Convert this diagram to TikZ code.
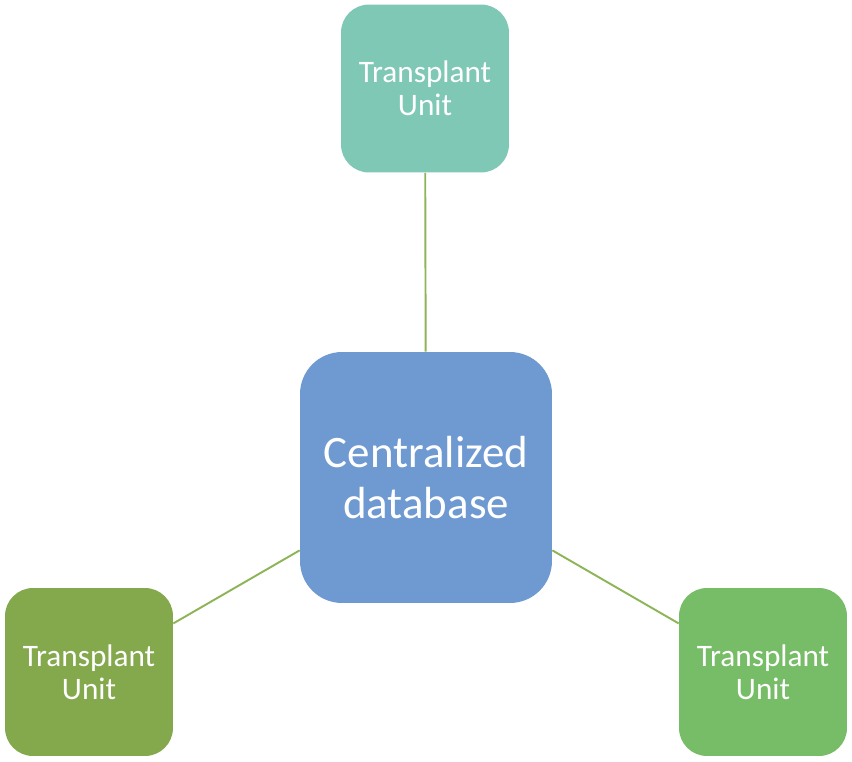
\documentclass[tikz,border=0pt]{standalone}
\usepackage{fontspec}
\setmainfont{Carlito}
\definecolor{tealunit}{HTML}{7FC8B5}
\definecolor{hubblue}{HTML}{6F99D1}
\definecolor{oliveunit}{HTML}{84A84C}
\definecolor{greenunit}{HTML}{77BC67}
\definecolor{linkgreen}{HTML}{8DB457}
\tikzset{
  unitbox/.style={rectangle, rounded corners=0.56cm, minimum width=3.36cm,
    minimum height=3.36cm, text=white, align=center, font=\fontsize{17.8}{18.7}\selectfont,
    inner sep=0pt},
  hubbox/.style={rectangle, rounded corners=0.84cm, fill=hubblue, minimum width=5.04cm,
    minimum height=5.02cm, text=white, align=center, font=\fontsize{25.6}{29.5}\selectfont,
    inner sep=0pt},
  link/.style={draw=linkgreen, line width=1.1pt}
}
\begin{document}
\begin{tikzpicture}[x=0.02cm, y=-0.02cm]
    \useasboundingbox (0,0) rectangle (852,761);
    \node [hubbox] (Hub) at (426,477.5) {Centralized\\database};
    \node [unitbox, fill=tealunit] (U_top) at (425,88.5) {Transplant\\Unit};
    \node [unitbox, fill=oliveunit] (U_left) at (89,672) {Transplant\\Unit};
    \node [unitbox, fill=greenunit] (U_right) at (763,672) {Transplant\\Unit};
    \draw [link] (Hub) -- (U_top);
    \draw [link] (Hub) -- (U_left);
    \draw [link] (Hub) -- (U_right);
  \end{tikzpicture}
\end{document}
